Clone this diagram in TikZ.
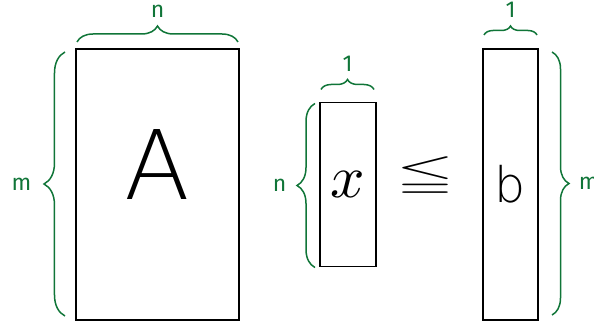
\documentclass[tikz,border=0pt]{standalone}
\usepackage{amssymb}
\usepackage{fontspec}
\setmainfont{Fira Sans}
\IfFontExistsTF{DejaVuSans-ExtraLight.ttf}
  {\newfontfamily\handfont{DejaVuSans-ExtraLight.ttf}}
  {\newfontfamily\handfont{Fira Sans}}
\newfontfamily\labelfont{Fira Sans}
\usetikzlibrary{positioning,decorations.pathreplacing}

\definecolor{bracegreen}{RGB}{16,117,56}

\begin{document}
\begin{tikzpicture}[
  x=1pt, y=1pt,
  matbox/.style={draw, line width=1.5pt, inner sep=0pt, outer sep=0pt},
  brace/.style={decorate, decoration={brace, amplitude=#1}, draw=bracegreen, line width=1.5pt},
  lbl/.style={text=bracegreen, inner sep=0pt, font=\labelfont\fontsize{23}{27}\selectfont},
  sym/.style={inner sep=0pt, font=\handfont\fontsize{#1}{#1}\selectfont}
]
\useasboundingbox (-157.5,-136.5) rectangle (436.5,184.5);

% the three blocks
\node[matbox, minimum width=163pt, minimum height=271pt] (matA) at (0,0) {};
\node[matbox, minimum width=56pt, minimum height=164pt, right=81pt of matA] (vecx) {};
\node[matbox, minimum width=55pt, minimum height=271pt, right=107pt of vecx] (vecb) {};

\node[sym=96] (symA) at ([yshift=20pt]matA.center) {A};
\node[inner sep=0pt] (symx) at (vecx.center) {\resizebox*{!}{26pt}{$x$}};
\node[sym=49] (symb) at (vecb.center) {b};
\node[inner sep=0pt, right=20pt of vecx, yshift=8pt] (leq) {\resizebox*{58pt}{40pt}{$\leqq$}};

% sizes
\draw[brace=16] ([xshift=1pt,yshift=7pt]matA.north west) -- ([xshift=-1pt,yshift=7pt]matA.north east)
  node[lbl, midway, above=24pt] (nA) {n};
\draw[brace=21] ([xshift=-11pt,yshift=4pt]matA.south west) -- ([xshift=-11pt,yshift=-3pt]matA.north west)
  node[lbl, midway, left=33pt] (mA) {m};
\draw[brace=10] ([xshift=1pt,yshift=13pt]vecx.north west) -- ([xshift=-2pt,yshift=13pt]vecx.north east)
  node[lbl, midway, above=17pt] (onex) {1};
\draw[brace=18] ([xshift=-5pt,yshift=-1pt]vecx.south west) -- ([xshift=-5pt,yshift=-1pt]vecx.north west)
  node[lbl, midway, left=28pt] (nx) {n};
\draw[brace=9] ([xshift=1pt,yshift=14pt]vecb.north west) -- ([xshift=-1pt,yshift=14pt]vecb.north east)
  node[lbl, midway, above=17pt] (oneb) {1};
\draw[brace=17] ([xshift=14pt,yshift=-3pt]vecb.north east) -- ([xshift=14pt,yshift=5pt]vecb.south east)
  node[lbl, midway, right=26pt] (mb) {m};
\end{tikzpicture}
\end{document}
